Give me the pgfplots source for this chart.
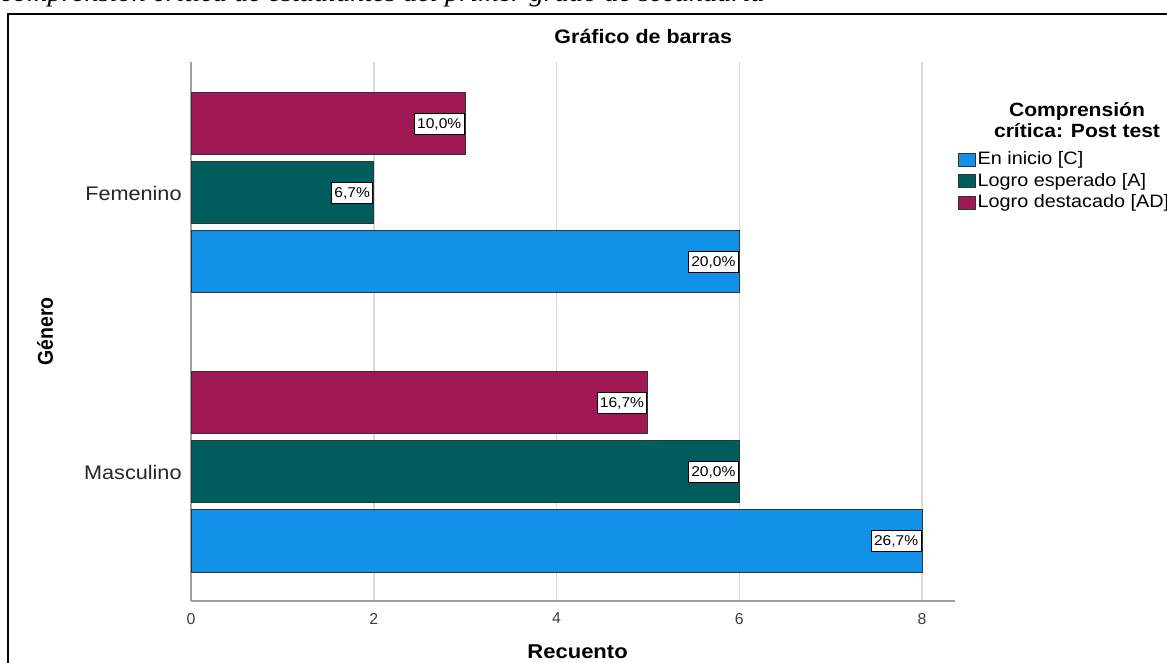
\documentclass[border=0pt]{standalone}
\usepackage{fontspec}
\setmainfont{Liberation Sans}[FakeStretch=1.1]
\newfontfamily\plainsans{Liberation Sans}
\newfontfamily\topfont{Liberation Serif}[FakeStretch=1.1]
\usepackage{graphicx}
\usepackage{pgfplots}
\usepackage{pgfplotstable}
\pgfplotsset{compat=1.18}

\definecolor{cblue}{HTML}{1192E8}
\definecolor{cgreen}{HTML}{005D5D}
\definecolor{cred}{HTML}{9F1853}

% y: 0 = Masculino, 1 = Femenino
\pgfplotstableread{
y x lab
0 8 26,7
1 6 20,0
}\inicio
\pgfplotstableread{
y x lab
0 6 20,0
1 2 6,7
}\esperado
\pgfplotstableread{
y x lab
0 5 16,7
1 3 10,0
}\destacado

\begin{document}
\begin{tikzpicture}
\useasboundingbox (0,0) rectangle (700.2pt,397.2pt);
\clip (0,0) rectangle (700.2pt,397.2pt);
\node[anchor=base west, inner sep=0pt, font=\topfont\itshape\fontsize{15.5}{18}\selectfont] at (0pt,396.4pt) {comprensión crítica de estudiantes del primer grado de secundaria};
\draw[line width=1.2pt] (4.8pt,-6pt) -- (4.8pt,388.8pt) -- (708pt,388.8pt);
\begin{axis}[
  at={(114.6pt,36.6pt)}, anchor=south west,
  scale only axis, width=458.4pt, height=323.4pt,
  xmin=0, xmax=8.361, ymin=-0.4624, ymax=1.4695,
  xbar, bar width=37.2pt,
  axis x line=bottom, axis y line=left,
  axis line style={-, draw=gray!75, line width=0.9pt},
  xtick={0,2,4,6,8}, ytick={0,1}, yticklabels={Masculino,Femenino},
  tick style={draw=none},
  /pgf/number format/assume math mode=true,
  xmajorgrids, grid style={draw=gray!30, line width=0.9pt},
  xticklabel style={font=\plainsans\fontsize{9.5}{11}\selectfont, text=black!75, yshift=-1.5pt},
  yticklabel style={font=\fontsize{11.8}{14}\selectfont, text=black!85},
  xlabel={Recuento},
  xlabel style={at={(axis description cs:0.506,-0.0946)}, anchor=center, font=\bfseries\fontsize{12}{14}\selectfont},
  ylabel={\scalebox{1}[1.1]{\plainsans\bfseries\fontsize{11.7}{14}\selectfont Género}},
  ylabel style={at={(axis description cs:-0.191,0.5)}, anchor=center},
  title={Gráfico de barras},
  title style={at={(axis description cs:0.592,1.028)}, anchor=center, font=\bfseries\fontsize{11.7}{14}\selectfont},
  clip=false,
  point meta=explicit symbolic,
  nodes near coords={\pgfplotspointmeta\%},
  every node near coord/.append style={anchor=east, draw=black, line width=0.4pt, fill=white, inner xsep=1.6pt, inner ysep=2.8pt, font=\fontsize{8.5}{10}\selectfont, xshift=-0.5pt},
  legend style={at={(axis description cs:1.0039,0.837)}, anchor=north west, draw=none, fill=none,
     font=\fontsize{10.8}{12}\selectfont, row sep=1.6pt, inner sep=0pt,
     nodes={inner sep=1pt}},
  legend cell align=left,
  legend image code/.code={\draw[#1] (0pt,-3.9pt) rectangle (10pt,3.9pt);},
]
\addplot[fill=cblue, draw=black!80, line width=0.6pt, bar shift=-41.4pt] table[x=x,y=y,meta=lab] {\inicio};
\addplot[fill=cgreen, draw=black!80, line width=0.6pt, bar shift=0pt] table[x=x,y=y,meta=lab] {\esperado};
\addplot[fill=cred, draw=black!80, line width=0.6pt, bar shift=41.4pt] table[x=x,y=y,meta=lab] {\destacado};
\legend{En inicio [C], Logro esperado [A], Logro destacado [AD]}
\node[align=center, font=\bfseries\fontsize{11.5}{12.6}\selectfont, inner sep=0pt] at (axis description cs:1.1597,0.8915) {Comprensión\\crítica: Post test};
\end{axis}
\end{tikzpicture}
\end{document}
